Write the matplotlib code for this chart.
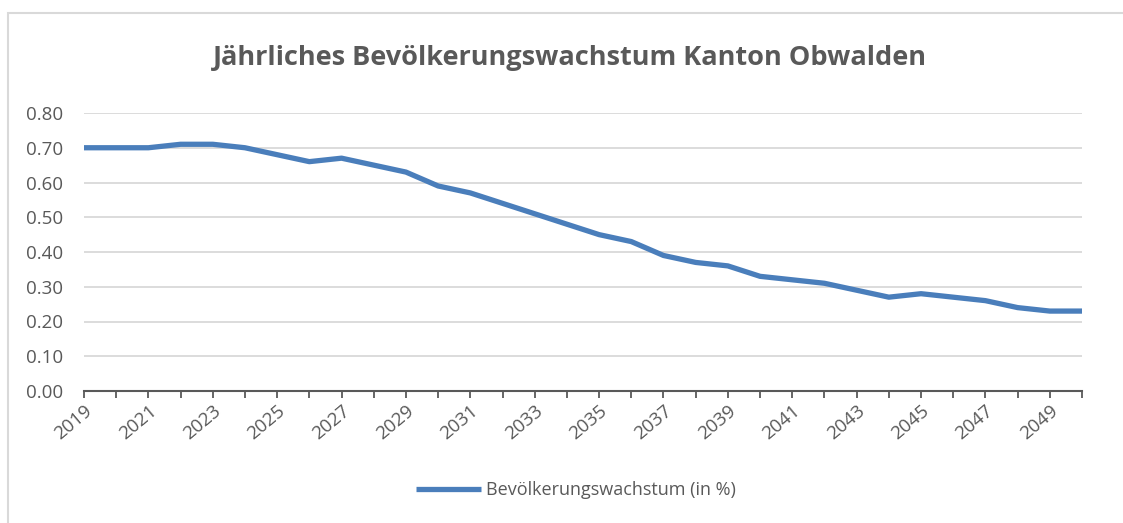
import matplotlib.pyplot as plt
import matplotlib.patches as patches

# Daten: jährliches Bevölkerungswachstum (in %)
jahre = list(range(2019, 2051))
wachstum = [0.70, 0.70, 0.70, 0.71, 0.71, 0.70, 0.68, 0.66, 0.67, 0.65,
            0.63, 0.59, 0.57, 0.54, 0.51, 0.48, 0.45, 0.43, 0.39, 0.37,
            0.36, 0.33, 0.32, 0.31, 0.29, 0.27, 0.28, 0.27, 0.26, 0.24,
            0.23, 0.23]
y_ticks = [0.0, 0.1, 0.2, 0.3, 0.4, 0.5, 0.6, 0.7, 0.8]

TEXTFARBE = "#595959"
LINIENFARBE = "#4a7ebb"

plt.rcParams["font.family"] = ["Open Sans", "DejaVu Sans"]

fig = plt.figure(figsize=(11.23, 5.23), dpi=100)
ax = fig.add_axes([84 / 1123, 132 / 523, 998 / 1123, 278 / 523])

# Rahmen um das Diagramm (nur links und oben sichtbar)
rahmen = patches.Rectangle((8 / 1123, -0.1), 1.2, (523 - 13) / 523 + 0.1,
                           transform=fig.transFigure, fill=False,
                           edgecolor="#d9d9d9", linewidth=1.5, clip_on=False)
fig.patches.append(rahmen)

ax.plot(jahre, wachstum, color=LINIENFARBE, linewidth=3.8,
        solid_capstyle="butt", label="Bevölkerungswachstum (in %)")

ax.set_xlim(jahre[0], jahre[-1])
ax.set_ylim(0, 0.8)
ax.set_yticks(y_ticks)
ax.set_yticklabels([f"{v:.2f}" for v in y_ticks])
ax.set_xticks(jahre)
ax.set_xticklabels([str(j) if (j - 2019) % 2 == 0 else "" for j in jahre],
                   rotation=40, ha="right", rotation_mode="anchor")

ax.grid(axis="y", color="#d9d9d9", linewidth=1.3)
ax.set_axisbelow(True)
for s in ["top", "right", "left"]:
    ax.spines[s].set_visible(False)
ax.spines["bottom"].set_color(TEXTFARBE)
ax.spines["bottom"].set_linewidth(1.5)

ax.tick_params(axis="y", length=0, labelsize=13.5, labelcolor=TEXTFARBE, pad=15)
ax.tick_params(axis="x", length=5, width=1.3, color=TEXTFARBE,
               labelsize=13.5, labelcolor=TEXTFARBE, pad=3)

fig.text(570 / 1123, 1 - 58 / 523, "Jährliches Bevölkerungswachstum Kanton Obwalden",
         ha="center", va="center", fontsize=19.5, fontweight="bold", color=TEXTFARBE)

leg = fig.legend(loc="center", bbox_to_anchor=(576 / 1123, 1 - 490 / 523),
                 frameon=False, fontsize=13, handlelength=3.6, handletextpad=0.3)
for t in leg.get_texts():
    t.set_color(TEXTFARBE)

plt.savefig("out.png", dpi=100)
